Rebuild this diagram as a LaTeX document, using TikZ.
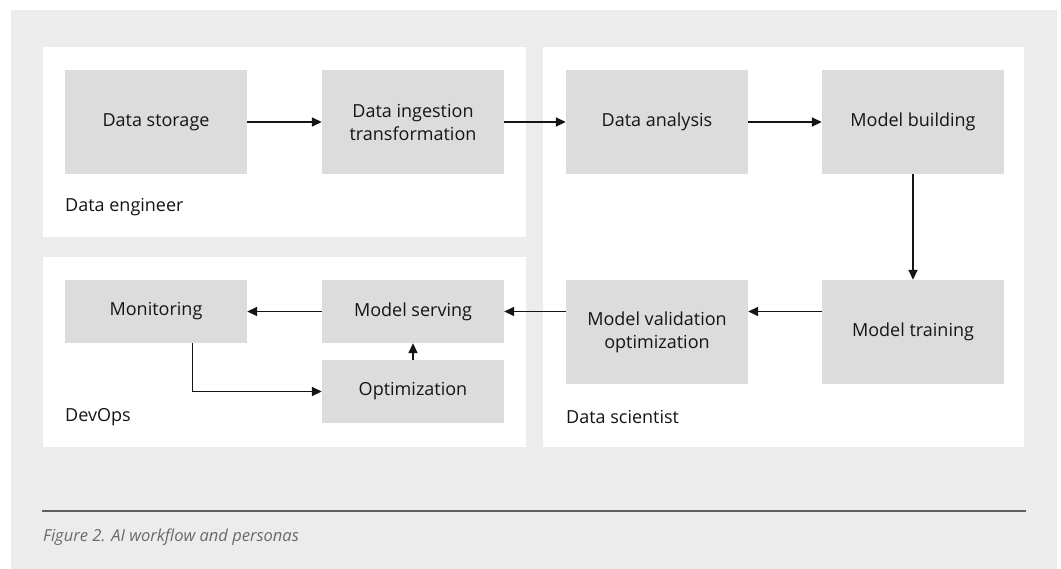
\documentclass[tikz,border=0pt]{standalone}
\usepackage{fontspec}
\setmainfont{Open Sans}
\usetikzlibrary{arrows.meta,calc}
\definecolor{bggray}{HTML}{ECECEC}
\definecolor{boxgray}{HTML}{DCDCDD}
\definecolor{rulegray}{HTML}{5F5F5F}
\definecolor{capgray}{HTML}{6A6A6A}
\definecolor{inkblack}{HTML}{151515}
\begin{document}
\begin{tikzpicture}[x=1pt,y=-1pt,
stage/.style={%
fill=boxgray,
minimum width=182pt,
minimum height=104pt,
inner sep=0pt,
align=center,
text=inkblack,
font=\fontsize{18}{23}\selectfont
},
flat/.style={%
stage,
minimum height=63pt
},
panel/.style={%
fill=white
},
persona/.style={%
anchor=west,
inner sep=0pt,
text=inkblack,
font=\fontsize{18}{23}\selectfont
},
flow/.style={%
-{Triangle[length=10pt,width=9pt]},
line width=1.6pt,
inkblack
},
]
\useasboundingbox(0,0)rectangle(1061,569);
\fill[bggray](11,10)rectangle(1057,569);
%% personas
\fill[panel](43,47)rectangle(526,237);
\fill[panel](543,47)rectangle(1024,447);
\fill[panel](43,257)rectangle(526,447);
\node[persona]at(65,207)(eng){Data engineer};
\node[persona]at(65,417)(dev){DevOps};
\node[persona]at(566,417)(sci){Data scientist};
%% top row
\node[stage]at(156,122)(store){Data storage};
\node[stage]at(413,122)(ingest){Data ingestion\\transformation};
\node[stage]at(657,122)(analysis){Data analysis};
\node[stage]at(913,122)(build){Model building};
%% bottom row
\node[stage]at(913,332)(train){Model training};
\node[stage]at(657,332)(valid){Model validation\\optimization};
\node[flat]at(413,311.5)(serve){Model serving};
\node[flat]at(156,311.5)(monitor){Monitoring};
\node[flat]at(413,391.5)(optim){Optimization};
%% arrows
\draw[flow](store)--(ingest);
\draw[flow](ingest)--(analysis);
\draw[flow](analysis)--(build);
\draw[flow](build)--(train);
\draw[flow](train.west|-serve.east)--(valid.east|-serve.east);
\draw[flow](valid.west|-serve.east)--(serve);
\draw[flow](serve)--(monitor);
\draw[flow](optim)--(serve);
\draw[flow]($(monitor.south west)!0.7!(monitor.south east)$)|-(optim);
%% caption
\coordinate(r1)at(42,511);
\coordinate(r2)at(1026,511);
\draw[rulegray,line width=1.5pt](r1)--(r2);
\node[anchor=west,inner sep=0pt,text=capgray,font=\fontsize{16.5}{20}\selectfont\itshape]at(43,537)(cap){Figure 2. AI workflow and personas};
\end{tikzpicture}
\end{document}
